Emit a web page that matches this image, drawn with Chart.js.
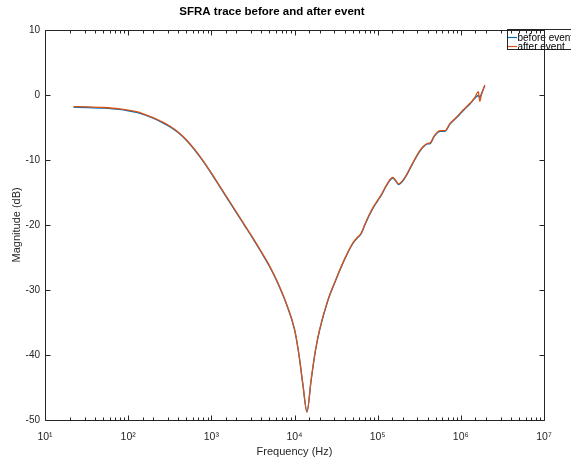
<!DOCTYPE html>
<html>
<head>
<meta charset="utf-8">
<script src="https://cdn.jsdelivr.net/npm/chart.js@4/dist/chart.umd.min.js"></script>
<style>
html,body{margin:0;padding:0;background:#fff;}
#wrap{width:571px;height:459px;position:relative;}
</style>
</head>
<body>
<div id="wrap"><canvas id="c" width="571" height="459"></canvas></div>
<script>
// ---- data ----
const freqHz = [22, 32, 50, 79, 100, 126, 158, 200, 251, 316, 398, 501, 631, 794, 1000, 1259, 1585, 1995, 2512, 3162, 3981, 5012, 6310, 7943, 10000, 11220, 12589, 14125, 15849, 17783, 19953, 25119, 31623, 39811, 50119, 56234, 63096, 70795, 79433, 89125, 100000, 112202, 125893, 141254, 151356, 165959, 177828, 199526, 223872, 251189, 281838, 316228, 354813, 398107, 426580, 478630, 537032, 562341, 645654, 741310, 891251, 1071519, 1288250, 1479108, 1621810, 1690000, 1770000, 1941000];
const beforeDb = [-1.9, -1.95, -2.05, -2.25, -2.45, -2.7, -3.1, -3.6, -4.2, -4.9, -5.8, -7.0, -8.5, -10.2, -12.1, -14.1, -16.1, -18.1, -20.1, -22.1, -24.2, -26.4, -29.0, -32.1, -36.1, -39.7, -44.5, -48.7, -43.9, -39.5, -36.3, -31.7, -28.4, -25.4, -22.9, -22.1, -21.4, -19.9, -18.5, -17.3, -16.3, -15.3, -14.1, -13.1, -12.8, -13.3, -13.8, -13.3, -12.3, -11.1, -9.9, -8.8, -8.0, -7.55, -7.5, -6.4, -5.7, -5.6, -5.6, -4.5, -3.5, -2.4, -1.4, -0.5, -0.1, -0.4, 0.2, 1.4];
const afterDb  = [-1.8, -1.85, -1.95, -2.15, -2.35, -2.6, -3.0, -3.5, -4.1, -4.8, -5.7, -6.9, -8.4, -10.1, -12.0, -14.0, -16.0, -18.0, -20.0, -22.0, -24.1, -26.3, -28.9, -32.0, -36.0, -39.6, -44.4, -48.8, -43.8, -39.4, -36.2, -31.6, -28.3, -25.3, -22.8, -22.0, -21.3, -19.8, -18.4, -17.2, -16.2, -15.2, -14.0, -13.0, -12.7, -13.2, -13.7, -13.2, -12.2, -11.0, -9.8, -8.7, -7.9, -7.45, -7.4, -6.3, -5.6, -5.5, -5.5, -4.4, -3.4, -2.3, -1.3, -0.4, 0.5, -1.0, 0.0, 1.5];
const xTickLabels = ['10\u00B9', '10\u00B2', '10\u00B3', '10\u2074', '10\u2075', '10\u2076', '10\u2077'];
const yTicks = [10, 0, -10, -20, -30, -40, -50];
const seriesNames = ['before event', 'after event'];
const titleText = 'SFRA trace before and after event';
const xAxisTitle = 'Frequency (Hz)';
const yAxisTitle = 'Magnitude (dB)';

const FONT = "'Liberation Sans', Arial, Helvetica, sans-serif";
const AXIS_COLOR = '#262626';

function pts(ys){ return freqHz.map((f,i)=>({x:f, y:ys[i]})); }

const framePlugin = {
  id: 'frame',
  afterDatasetsDraw(chart){
    const ctx = chart.ctx;
    const lx = 507, ly = 29.5, lw = 90, lh = 20;
    ctx.save();
    ctx.fillStyle = '#fff';
    ctx.fillRect(lx, ly, lw, lh);
    ctx.strokeStyle = AXIS_COLOR; ctx.lineWidth = 1;
    ctx.strokeRect(lx + 0.5, ly, lw, lh);
    ctx.font = "10px " + FONT;
    ctx.textBaseline = 'middle';
    ctx.textAlign = 'left';
    chart.data.datasets.forEach((ds, i) => {
      const yy = ly + 8 + i * 9;
      ctx.strokeStyle = ds.borderColor; ctx.lineWidth = 1.2;
      ctx.beginPath(); ctx.moveTo(lx + 1, yy); ctx.lineTo(lx + 10, yy); ctx.stroke();
      ctx.fillStyle = '#000';
      ctx.fillText(ds.label, lx + 10.5, yy + 0.5);
    });
    ctx.restore();
  },
  afterDraw(chart){
    const ctx = chart.ctx, a = chart.chartArea;
    const xs = chart.scales.x, ys = chart.scales.y;
    ctx.save();
    ctx.strokeStyle = AXIS_COLOR; ctx.lineWidth = 1;
    const L = Math.round(a.left) + 0.5, R = Math.round(a.right) + 0.5, T = Math.round(a.top) + 0.5, B = Math.round(a.bottom) + 0.5;
    ctx.beginPath();
    ctx.rect(L, T, R - L, B - T);
    ctx.stroke();
    ctx.beginPath();
    xs.ticks.forEach(t => {
      const e = Math.log10(t.value);
      const major = Math.abs(e - Math.round(e)) < 1e-9;
      const len = major ? 5 : 3;
      const px = Math.round(xs.getPixelForValue(t.value)) + 0.5;
      ctx.moveTo(px, B); ctx.lineTo(px, B - len);
      ctx.moveTo(px, T); ctx.lineTo(px, T + len);
    });
    ys.ticks.forEach(t => {
      const py = Math.round(ys.getPixelForValue(t.value)) + 0.5;
      ctx.moveTo(L, py); ctx.lineTo(L + 5, py);
      ctx.moveTo(R, py); ctx.lineTo(R - 5, py);
    });
    ctx.stroke();
    ctx.restore();
  }
};

new Chart(document.getElementById('c'), {
  type: 'line',
  data: {
    datasets: [
      { label: seriesNames[0], order: 2, data: pts(beforeDb), borderColor: '#0072BD', borderWidth: 1.3, pointRadius: 0, cubicInterpolationMode: 'monotone', fill: false },
      { label: seriesNames[1], order: 1, data: pts(afterDb), borderColor: '#D95319', borderWidth: 1.3, pointRadius: 0, cubicInterpolationMode: 'monotone', fill: false }
    ]
  },
  options: {
    responsive: false,
    animation: false,
    events: [],
    layout: { padding: { left: 0, right: 27, top: 0, bottom: 0 } },
    plugins: {
      legend: { display: false },
      tooltip: { enabled: false },
      title: { display: true, text: titleText, color: '#000', font: { family: FONT, size: 11.5, weight: 'bold' }, padding: { top: 5, bottom: 11 } }
    },
    scales: {
      x: {
        type: 'logarithmic', min: 10, max: 1e7,
        grid: { display: false, drawTicks: false },
        border: { display: false },
        afterFit(s){ s.height = 39; },
        ticks: {
          autoSkip: false, maxRotation: 0, minRotation: 0, padding: 11,
          color: AXIS_COLOR, font: { family: FONT, size: 10.5 },
          callback(v){ const e = Math.log10(v); const r = Math.round(e); return Math.abs(e - r) < 1e-9 ? xTickLabels[r - 1] : ''; }
        },
        title: { display: true, text: xAxisTitle, color: AXIS_COLOR, font: { family: FONT, size: 11 }, padding: { top: 0, bottom: 0 } }
      },
      y: {
        type: 'linear', min: -50, max: 10,
        grid: { display: false, drawTicks: false },
        border: { display: false },
        afterFit(s){ s.width = 45; },
        afterBuildTicks(s){ s.ticks = yTicks.slice().reverse().map(v => ({ value: v })); },
        ticks: { padding: 5, color: AXIS_COLOR, font: { family: FONT, size: 10 }, callback(v){ return String(v); } },
        title: { display: true, text: yAxisTitle, color: AXIS_COLOR, font: { family: FONT, size: 11 }, padding: { top: 10, bottom: 0 } }
      }
    }
  },
  plugins: [framePlugin]
});
</script>
</body>
</html>
